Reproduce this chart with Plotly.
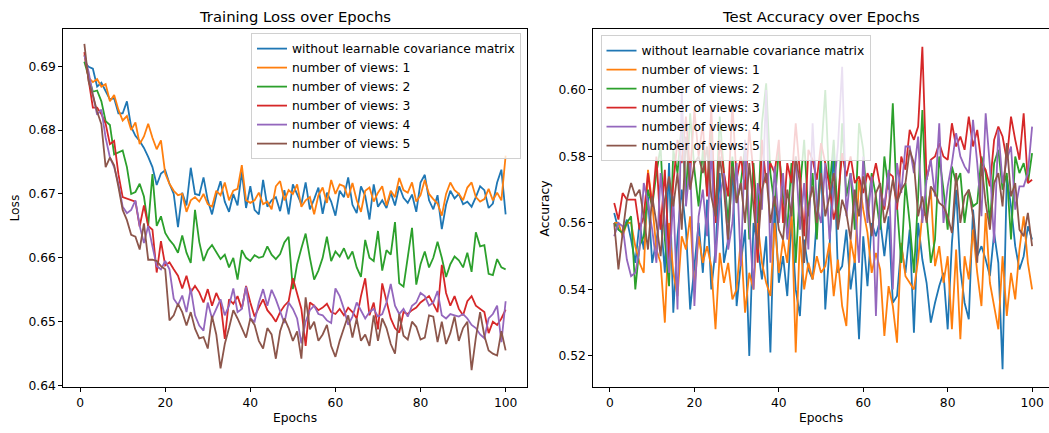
import plotly.graph_objects as go

epochs = list(range(1, 101))

series_names = [
    "without learnable covariance matrix",
    "number of views: 1",
    "number of views: 2",
    "number of views: 3",
    "number of views: 4",
    "number of views: 5",
]
colors = ["#1f77b4", "#ff7f0e", "#2ca02c", "#d62728", "#9467bd", "#8c564b"]

# ---------------- Training loss ----------------
loss_base = [
    0.6907, 0.6899, 0.6896, 0.6868, 0.6874, 0.6860, 0.6848, 0.6850, 0.6826, 0.6826,
    0.6845, 0.6805, 0.6791, 0.6783, 0.6772, 0.6758, 0.6742, 0.6714, 0.6732, 0.6737,
    0.6716, 0.6700, 0.6648, 0.6702, 0.6682, 0.6741, 0.6700, 0.6698, 0.6726, 0.6690,
    0.6668, 0.6698, 0.6720, 0.6688, 0.6672, 0.6700, 0.6682, 0.6735, 0.6678, 0.6712,
    0.6675, 0.6668, 0.6722, 0.6680, 0.6690, 0.6695, 0.6673, 0.6706, 0.6668, 0.6715,
    0.6700, 0.6684, 0.6718, 0.6676, 0.6692, 0.6710, 0.6669, 0.6702, 0.6688, 0.6666,
    0.6705, 0.6695, 0.6726, 0.6683, 0.6670, 0.6712, 0.6697, 0.6660, 0.6715, 0.6680,
    0.6690, 0.6678, 0.6702, 0.6682, 0.6712, 0.6694, 0.6686, 0.6699, 0.6672, 0.6718,
    0.6730, 0.6690, 0.6676, 0.6698, 0.6645, 0.6683, 0.6705, 0.6693, 0.6700, 0.6684,
    0.6688, 0.6680, 0.6695, 0.6712, 0.6706, 0.6678, 0.6685, 0.6718, 0.6738, 0.6668,
]
loss_v1 = [
    0.6918, 0.6882, 0.6875, 0.6880, 0.6868, 0.6872, 0.6845, 0.6855, 0.6832, 0.6815,
    0.6822, 0.6800, 0.6812, 0.6778, 0.6790, 0.6810, 0.6788, 0.6770, 0.6784, 0.6732,
    0.6716, 0.6705, 0.6698, 0.6700, 0.6672, 0.6690, 0.6695, 0.6688, 0.6700, 0.6684,
    0.6680, 0.6705, 0.6698, 0.6718, 0.6690, 0.6705, 0.6708, 0.6745, 0.6690, 0.6686,
    0.6690, 0.6702, 0.6684, 0.6688, 0.6676, 0.6712, 0.6720, 0.6690, 0.6706, 0.6700,
    0.6715, 0.6680, 0.6690, 0.6695, 0.6668, 0.6698, 0.6710, 0.6686, 0.6722, 0.6700,
    0.6715, 0.6712, 0.6694, 0.6717, 0.6690, 0.6672, 0.6705, 0.6710, 0.6688, 0.6702,
    0.6712, 0.6682, 0.6705, 0.6695, 0.6725, 0.6706, 0.6702, 0.6718, 0.6688, 0.6698,
    0.6722, 0.6700, 0.6692, 0.6685, 0.6666, 0.6700, 0.6718, 0.6706, 0.6700, 0.6690,
    0.6710, 0.6718, 0.6695, 0.6688, 0.6692, 0.6708, 0.6690, 0.6702, 0.6690, 0.6760,
]
loss_v2 = [
    0.6907, 0.6885, 0.6860, 0.6862, 0.6845, 0.6814, 0.6808, 0.6762, 0.6765, 0.6768,
    0.6742, 0.6700, 0.6703, 0.6716, 0.6696, 0.6650, 0.6731, 0.6650, 0.6665, 0.6639,
    0.6628, 0.6620, 0.6608, 0.6635, 0.6608, 0.6592, 0.6675, 0.6625, 0.6595, 0.6612,
    0.6620, 0.6610, 0.6598, 0.6605, 0.6585, 0.6600, 0.6566, 0.6612, 0.6600, 0.6595,
    0.6604, 0.6600, 0.6602, 0.6618, 0.6605, 0.6598, 0.6606, 0.6624, 0.6633, 0.6551,
    0.6590, 0.6615, 0.6638, 0.6600, 0.6566, 0.6580, 0.6600, 0.6633, 0.6595, 0.6610,
    0.6602, 0.6615, 0.6598, 0.6610, 0.6585, 0.6570, 0.6628, 0.6600, 0.6595, 0.6642,
    0.6580, 0.6612, 0.6605, 0.6656, 0.6560, 0.6555, 0.6600, 0.6647, 0.6558, 0.6590,
    0.6610, 0.6585, 0.6600, 0.6625, 0.6600, 0.6570, 0.6590, 0.6602, 0.6596, 0.6585,
    0.6608, 0.6578, 0.6640, 0.6618, 0.6620, 0.6575, 0.6573, 0.6598, 0.6585, 0.6582,
]
loss_v3 = [
    0.6922, 0.6880, 0.6835, 0.6835, 0.6825, 0.6810, 0.6778, 0.6783, 0.6731, 0.6695,
    0.6693, 0.6691, 0.6688, 0.6649, 0.6682, 0.6650, 0.6644, 0.6577, 0.6626, 0.6588,
    0.6593, 0.6582, 0.6572, 0.6552, 0.6572, 0.6546, 0.6556, 0.6546, 0.6530, 0.6551,
    0.6525, 0.6545, 0.6530, 0.6473, 0.6535, 0.6528, 0.6540, 0.6520, 0.6556, 0.6530,
    0.6508, 0.6522, 0.6535, 0.6518, 0.6510, 0.6500, 0.6515, 0.6525, 0.6532, 0.6568,
    0.6545, 0.6520, 0.6462, 0.6530, 0.6525, 0.6518, 0.6522, 0.6528, 0.6515, 0.6512,
    0.6520, 0.6510, 0.6522, 0.6515, 0.6505, 0.6540, 0.6568, 0.6510, 0.6530, 0.6488,
    0.6560, 0.6530, 0.6505, 0.6490, 0.6483, 0.6515, 0.6512, 0.6518, 0.6522, 0.6530,
    0.6535, 0.6540, 0.6528, 0.6515, 0.6589, 0.6545, 0.6525, 0.6540, 0.6520, 0.6510,
    0.6532, 0.6540, 0.6525, 0.6520, 0.6515, 0.6482, 0.6500, 0.6495, 0.6505, 0.6519,
]
loss_v4 = [
    0.6917, 0.6891, 0.6855, 0.6824, 0.6832, 0.6788, 0.6757, 0.6742, 0.6716, 0.6680,
    0.6670, 0.6675, 0.6690, 0.6650, 0.6623, 0.6650, 0.6618, 0.6587, 0.6582, 0.6595,
    0.6582, 0.6536, 0.6526, 0.6541, 0.6515, 0.6552, 0.6510, 0.6494, 0.6486, 0.6530,
    0.6505, 0.6520, 0.6535, 0.6510, 0.6525, 0.6552, 0.6515, 0.6520, 0.6555, 0.6505,
    0.6500, 0.6530, 0.6551, 0.6525, 0.6550, 0.6535, 0.6515, 0.6498, 0.6530, 0.6520,
    0.6505, 0.6466, 0.6500, 0.6518, 0.6525, 0.6512, 0.6510, 0.6502, 0.6498, 0.6552,
    0.6540, 0.6520, 0.6495, 0.6508, 0.6530, 0.6518, 0.6505, 0.6515, 0.6520, 0.6508,
    0.6512, 0.6530, 0.6559, 0.6525, 0.6512, 0.6520, 0.6508, 0.6525, 0.6530, 0.6545,
    0.6540, 0.6525, 0.6530, 0.6548, 0.6510, 0.6505, 0.6512, 0.6510, 0.6508, 0.6512,
    0.6505, 0.6495, 0.6490, 0.6480, 0.6474, 0.6505, 0.6512, 0.6525, 0.6468, 0.6532,
]
loss_v5 = [
    0.6935, 0.6876, 0.6855, 0.6829, 0.6809, 0.6742, 0.6757, 0.6745, 0.6711, 0.6675,
    0.6659, 0.6636, 0.6633, 0.6613, 0.6654, 0.6597, 0.6597, 0.6595, 0.6587, 0.6582,
    0.6502, 0.6510, 0.6528, 0.6515, 0.6494, 0.6515, 0.6489, 0.6474, 0.6476, 0.6458,
    0.6509, 0.6480, 0.6427, 0.6465, 0.6490, 0.6518, 0.6505, 0.6490, 0.6475, 0.6505,
    0.6495, 0.6470, 0.6458, 0.6490, 0.6480, 0.6442, 0.6485, 0.6505, 0.6490, 0.6470,
    0.6485, 0.6442, 0.6538, 0.6488, 0.6500, 0.6470, 0.6480, 0.6495, 0.6462, 0.6445,
    0.6470, 0.6490, 0.6510, 0.6475, 0.6505, 0.6470, 0.6480, 0.6462, 0.6510, 0.6470,
    0.6505, 0.6490, 0.6465, 0.6450, 0.6512, 0.6478, 0.6472, 0.6500, 0.6492, 0.6472,
    0.6475, 0.6510, 0.6508, 0.6468, 0.6500, 0.6465, 0.6482, 0.6508, 0.6470, 0.6490,
    0.6500, 0.6424, 0.6475, 0.6515, 0.6478, 0.6455, 0.6450, 0.6447, 0.6485, 0.6455,
]

# ---------------- Test accuracy ----------------
acc_base = [
    0.563, 0.558, 0.557, 0.561, 0.555, 0.548, 0.560, 0.552, 0.568, 0.548,
    0.555, 0.562, 0.545, 0.578, 0.533, 0.556, 0.570, 0.558, 0.534, 0.548,
    0.560, 0.545, 0.567, 0.540, 0.552, 0.575, 0.548, 0.555, 0.578, 0.535,
    0.548, 0.558, 0.520, 0.560, 0.553, 0.543, 0.556, 0.521, 0.566, 0.542,
    0.550, 0.538, 0.561, 0.540, 0.532, 0.555, 0.546, 0.543, 0.560, 0.580,
    0.534, 0.552, 0.583, 0.545, 0.547, 0.558, 0.540, 0.549, 0.525, 0.556,
    0.541, 0.560, 0.556, 0.561, 0.550, 0.562, 0.536, 0.538, 0.553, 0.545,
    0.558, 0.527, 0.560, 0.549, 0.542, 0.530, 0.536, 0.541, 0.545, 0.528,
    0.554, 0.570, 0.546, 0.536, 0.531, 0.564, 0.550, 0.553, 0.549, 0.544,
    0.557, 0.548, 0.516, 0.574, 0.565, 0.553, 0.546, 0.550, 0.559, 0.555,
]
acc_v1 = [
    0.560, 0.560, 0.556, 0.560, 0.560, 0.553, 0.548, 0.545, 0.576, 0.566,
    0.552, 0.548, 0.530, 0.560, 0.545, 0.538, 0.556, 0.552, 0.562, 0.540,
    0.556, 0.548, 0.553, 0.547, 0.528, 0.551, 0.542, 0.548, 0.537, 0.540,
    0.555, 0.533, 0.545, 0.540, 0.560, 0.548, 0.542, 0.538, 0.560, 0.545,
    0.555, 0.548, 0.565, 0.521, 0.556, 0.540, 0.548, 0.543, 0.550, 0.545,
    0.547, 0.554, 0.538, 0.549, 0.535, 0.529, 0.555, 0.548, 0.573, 0.564,
    0.557, 0.545, 0.551, 0.546, 0.526, 0.541, 0.535, 0.524, 0.554, 0.544,
    0.542, 0.540, 0.549, 0.563, 0.562, 0.570, 0.547, 0.553, 0.542, 0.550,
    0.528, 0.552, 0.525, 0.550, 0.543, 0.558, 0.545, 0.535, 0.563, 0.542,
    0.535, 0.528, 0.550, 0.532, 0.545, 0.537, 0.552, 0.562, 0.548, 0.540,
]
acc_v2 = [
    0.560, 0.558, 0.557, 0.560, 0.562, 0.540, 0.553, 0.556, 0.570, 0.565,
    0.575, 0.583, 0.555, 0.541, 0.582, 0.575, 0.590, 0.568, 0.593, 0.576,
    0.565, 0.582, 0.570, 0.588, 0.562, 0.592, 0.575, 0.560, 0.580, 0.566,
    0.572, 0.583, 0.555, 0.578, 0.560, 0.590, 0.602, 0.575, 0.565, 0.582,
    0.568, 0.558, 0.578, 0.548, 0.570, 0.585, 0.562, 0.575, 0.555, 0.580,
    0.600, 0.570, 0.585, 0.560, 0.590, 0.568, 0.575, 0.558, 0.590, 0.582,
    0.563, 0.575, 0.568, 0.558, 0.580, 0.570, 0.596, 0.565, 0.548, 0.572,
    0.560, 0.545, 0.568, 0.594, 0.562, 0.548, 0.555, 0.580, 0.570, 0.558,
    0.577, 0.572, 0.575, 0.560, 0.570, 0.565, 0.566, 0.580, 0.575, 0.560,
    0.578, 0.582, 0.570, 0.575, 0.555, 0.580, 0.575, 0.578, 0.572, 0.581,
]
acc_v3 = [
    0.566, 0.561, 0.569, 0.567, 0.567, 0.567, 0.558, 0.562, 0.575, 0.565,
    0.580, 0.558, 0.576, 0.549, 0.572, 0.585, 0.578, 0.592, 0.575, 0.594,
    0.580, 0.590, 0.568, 0.595, 0.560, 0.585, 0.575, 0.568, 0.596, 0.573,
    0.580, 0.570, 0.588, 0.575, 0.548, 0.585, 0.572, 0.578, 0.575, 0.585,
    0.560, 0.578, 0.572, 0.590, 0.575, 0.556, 0.582, 0.579, 0.573, 0.584,
    0.578, 0.571, 0.561, 0.567, 0.581, 0.574, 0.580, 0.572, 0.574, 0.569,
    0.575, 0.572, 0.578, 0.571, 0.564, 0.575, 0.574, 0.564, 0.580, 0.576,
    0.588, 0.585, 0.589, 0.613, 0.573, 0.579, 0.580, 0.584, 0.580, 0.579,
    0.590, 0.583, 0.586, 0.582, 0.592, 0.583, 0.588, 0.578, 0.576, 0.571,
    0.585, 0.589, 0.586, 0.579, 0.592, 0.585, 0.579, 0.593, 0.572, 0.573,
]
acc_v4 = [
    0.556, 0.560, 0.559, 0.549, 0.544, 0.545, 0.552, 0.572, 0.566, 0.558,
    0.548, 0.575, 0.560, 0.545, 0.568, 0.534, 0.600, 0.565, 0.578, 0.535,
    0.562, 0.570, 0.556, 0.583, 0.548, 0.567, 0.575, 0.552, 0.560, 0.578,
    0.547, 0.585, 0.560, 0.540, 0.572, 0.564, 0.600, 0.548, 0.577, 0.560,
    0.575, 0.555, 0.566, 0.580, 0.558, 0.572, 0.552, 0.590, 0.565, 0.560,
    0.578, 0.555, 0.570, 0.583, 0.607, 0.562, 0.575, 0.566, 0.548, 0.580,
    0.560, 0.574, 0.532, 0.570, 0.565, 0.576, 0.540, 0.578, 0.569, 0.583,
    0.583, 0.575, 0.586, 0.560, 0.573, 0.579, 0.568, 0.590, 0.560, 0.571,
    0.578, 0.587, 0.580, 0.577, 0.575, 0.591, 0.578, 0.562, 0.593, 0.577,
    0.554, 0.588, 0.572, 0.579, 0.583, 0.564, 0.571, 0.571, 0.575, 0.589,
]
acc_v5 = [
    0.560, 0.546, 0.557, 0.567, 0.572, 0.568, 0.570, 0.562, 0.552, 0.568,
    0.560, 0.550, 0.567, 0.574, 0.565, 0.575, 0.558, 0.586, 0.570, 0.578,
    0.580, 0.575, 0.583, 0.568, 0.562, 0.580, 0.570, 0.555, 0.577, 0.566,
    0.572, 0.560, 0.578, 0.565, 0.552, 0.570, 0.575, 0.560, 0.568, 0.558,
    0.555, 0.570, 0.562, 0.580, 0.572, 0.548, 0.565, 0.571, 0.560, 0.575,
    0.562, 0.568, 0.575, 0.558, 0.567, 0.563, 0.555, 0.570, 0.562, 0.574,
    0.566, 0.556, 0.569, 0.572, 0.560, 0.565, 0.573, 0.566, 0.570, 0.572,
    0.582, 0.578, 0.562, 0.568, 0.560, 0.571, 0.569, 0.566, 0.565, 0.562,
    0.557, 0.575, 0.560, 0.568, 0.570, 0.562, 0.548, 0.578, 0.566, 0.558,
    0.572, 0.575, 0.565, 0.584, 0.568, 0.572, 0.558, 0.556, 0.563, 0.553,
]

loss_series = [loss_base, loss_v1, loss_v2, loss_v3, loss_v4, loss_v5]
acc_series = [acc_base, acc_v1, acc_v2, acc_v3, acc_v4, acc_v5]

loss_ticks = [0.64, 0.65, 0.66, 0.67, 0.68, 0.69]
acc_ticks = [0.52, 0.54, 0.56, 0.58, 0.60]
epoch_ticks = [0, 20, 40, 60, 80, 100]

W, H = 1049, 433
FONT = "DejaVu Sans"
FS = 12.3
TFS = 14.8

fig = go.Figure()
for name, col, ys in zip(series_names, colors, loss_series):
    fig.add_trace(go.Scatter(x=epochs, y=ys, mode="lines", name=name,
                             line=dict(color=col, width=1.8),
                             xaxis="x", yaxis="y", legend="legend"))
for name, col, ys in zip(series_names, colors, acc_series):
    fig.add_trace(go.Scatter(x=epochs, y=ys, mode="lines", name=name,
                             line=dict(color=col, width=1.8),
                             xaxis="x2", yaxis="y2", legend="legend2"))

def px_x(p):
    return p / W

def px_y(p):
    return 1 - p / H

ax_common = dict(showgrid=False, zeroline=False, showline=True, linecolor="black",
                 linewidth=1, ticks="outside", ticklen=4, tickwidth=1,
                 tickcolor="black", tickfont=dict(family=FONT, size=FS, color="black"))

ydom = [px_y(392), px_y(29.5)]

legend_common = dict(bgcolor="rgba(255,255,255,0.8)", bordercolor="#d0d0d0", borderwidth=1,
                     font=dict(family=FONT, size=FS, color="black"), itemwidth=30,
                     tracegroupgap=0, yanchor="top")

fig.update_layout(
    width=W, height=H,
    margin=dict(l=0, r=0, t=0, b=0),
    paper_bgcolor="white", plot_bgcolor="white",
    font=dict(family=FONT, size=FS, color="black"),
    xaxis=dict(domain=[px_x(63.3), px_x(526.7)], range=[-3.95, 104.95],
               tickvals=epoch_ticks, mirror=True, anchor="y", **ax_common),
    yaxis=dict(domain=ydom, range=[0.6397, 0.6958], tickvals=loss_ticks,
               tickformat=".2f", mirror=True, anchor="x", **ax_common),
    xaxis2=dict(domain=[px_x(593.3), 1.0], range=[-3.95, 104.0],
                tickvals=epoch_ticks, mirror=True, anchor="y2", **ax_common),
    yaxis2=dict(domain=ydom, range=[0.5105, 0.6183], tickvals=acc_ticks,
                tickformat=".2f", mirror=False, anchor="x2", **ax_common),
    legend=dict(x=px_x(521), y=px_y(33.5), xanchor="right", **legend_common),
    legend2=dict(x=px_x(600.5), y=px_y(35.5), xanchor="left", **legend_common),
    annotations=[
        dict(text="Training Loss over Epochs", x=px_x(295), y=px_y(17), xref="paper",
             yref="paper", showarrow=False, font=dict(family=FONT, size=TFS, color="black"),
             xanchor="center", yanchor="middle"),
        dict(text="Test Accuracy over Epochs", x=px_x(821), y=px_y(17), xref="paper",
             yref="paper", showarrow=False, font=dict(family=FONT, size=TFS, color="black"),
             xanchor="center", yanchor="middle"),
        dict(text="Epochs", x=px_x(295), y=px_y(423), xref="paper", yref="paper",
             showarrow=False, font=dict(family=FONT, size=FS, color="black"),
             xanchor="center", yanchor="middle"),
        dict(text="Epochs", x=px_x(821), y=px_y(423), xref="paper", yref="paper",
             showarrow=False, font=dict(family=FONT, size=FS, color="black"),
             xanchor="center", yanchor="middle"),
        dict(text="Loss", x=px_x(15), y=px_y(211), xref="paper", yref="paper",
             showarrow=False, textangle=-90, font=dict(family=FONT, size=FS, color="black"),
             xanchor="center", yanchor="middle"),
        dict(text="Accuracy", x=px_x(545), y=px_y(211), xref="paper", yref="paper",
             showarrow=False, textangle=-90, font=dict(family=FONT, size=FS, color="black"),
             xanchor="center", yanchor="middle"),
    ],
)

fig.write_html("out.html", config={"displayModeBar": False},
               post_script="document.body.style.margin='0';document.body.style.padding='0';")
